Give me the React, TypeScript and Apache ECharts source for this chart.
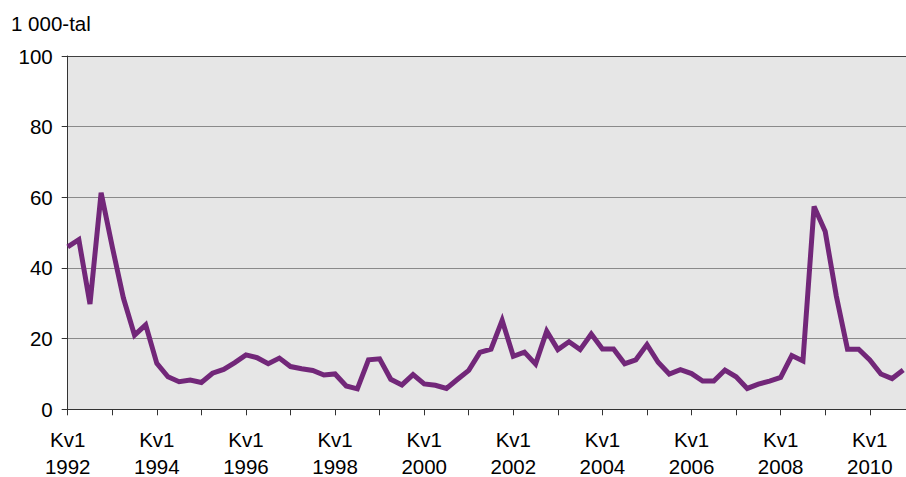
import React, { useEffect, useRef } from "react";
import * as echarts from "echarts";

// Years and quarters shown on the category axis (2011 Kv1 only extends the plot area, no value)
const years = [1992, 1993, 1994, 1995, 1996, 1997, 1998, 1999, 2000, 2001, 2002, 2003, 2004, 2005, 2006, 2007, 2008, 2009, 2010, 2011];
const quarters = ["Kv1", "Kv2", "Kv3", "Kv4"];

// Values in thousands, 1992 Kv1 – 2010 Kv4
const values: (number | null)[] = [
  46, 48, 29.8, 61.3, 46, 31.5, 21, 23.9,
  13, 9.2, 7.8, 8.3, 7.6, 10.2, 11.3, 13.2,
  15.4, 14.6, 12.9, 14.5, 12.1, 11.5, 11.0, 9.7,
  10.0, 6.6, 5.8, 14.0, 14.3, 8.5, 6.9, 9.8,
  7.2, 6.8, 5.9, 8.5, 11.0, 16.1, 17.0, 25.2,
  15.0, 16.2, 12.8, 22.1, 16.9, 19.1, 16.9, 21.3,
  17.1, 17.1, 12.9, 14.0, 18.3, 13.3, 10.0, 11.2,
  10.1, 8.0, 8.0, 11.1, 9.2, 5.9, 7.1, 8.0,
  9.0, 15.2, 13.7, 57.4, 50.3, 32, 17.0, 17.0,
  14.0, 10.0, 8.7, 11.1,
  null,
];

const yTicks = [0, 20, 40, 60, 80, 100];
const unitLabel = "1 000-tal";

const quarterCats: string[] = [];
const yearCats: string[] = [];
years.forEach((y) => {
  quarters.forEach((q) => {
    if (quarterCats.length < values.length) {
      quarterCats.push(q);
      yearCats.push(String(y));
    }
  });
});

const FONT = "'Liberation Sans', Arial, Helvetica, sans-serif";

export default function App() {
  const ref = useRef<HTMLDivElement>(null);
  useEffect(() => {
    if (!ref.current) return;
    const chart = echarts.init(ref.current, null, { renderer: "svg" });
    const step = 11.14;
    const labelStyle = { color: "#000", fontFamily: FONT, fontSize: 20.5, lineHeight: 16 };
    chart.setOption({
      animation: false,
      backgroundColor: "#ffffff",
      title: {
        text: unitLabel,
        left: 11,
        top: 13,
        padding: 0,
        textStyle: { fontFamily: FONT, fontSize: 20.5, fontWeight: "normal", color: "#000", lineHeight: 20 },
      },
      grid: {
        left: 67.7,
        top: 56,
        width: step * (values.length - 1),
        height: 353.3,
        show: true,
        backgroundColor: "#e6e6e6",
        borderWidth: 0,
        containLabel: false,
        outerBoundsMode: "none",
      },
      xAxis: [
        {
          type: "category",
          position: "bottom",
          offset: 0,
          data: quarterCats,
          boundaryGap: false,
          axisLine: { show: true, lineStyle: { color: "#333", width: 1 } },
          axisTick: { show: true, interval: 3, length: 6, lineStyle: { color: "#333", width: 1 } },
          axisLabel: { ...labelStyle, interval: 7, margin: 22 },
          splitLine: { show: false },
        },
        {
          type: "category",
          position: "bottom",
          offset: 0,
          data: yearCats,
          boundaryGap: false,
          axisLine: { show: false },
          axisTick: { show: false },
          axisLabel: { ...labelStyle, interval: 7, margin: 49.5 },
          splitLine: { show: false },
        },
      ],
      yAxis: {
        type: "value",
        min: yTicks[0],
        max: yTicks[yTicks.length - 1],
        interval: 20,
        axisLine: { show: true, lineStyle: { color: "#333", width: 1 } },
        axisTick: { show: true, length: 6, lineStyle: { color: "#333", width: 1 } },
        axisLabel: { color: "#000", fontFamily: FONT, fontSize: 20.5, margin: 15 },
        splitLine: {
          show: true,
          lineStyle: { color: ["#8a8a8a", "#8a8a8a", "#8a8a8a", "#8a8a8a", "#8a8a8a", "#404040"], width: 1.2 },
        },
      },
      series: [
        {
          type: "line",
          xAxisIndex: 0,
          data: values,
          showSymbol: false,
          symbol: "none",
          connectNulls: false,
          lineStyle: { color: "#722779", width: 5, join: "miter" },
          itemStyle: { color: "#722779" },
        },
      ],
    });
    return () => chart.dispose();
  }, []);
  return (
    <div style={{ position: "fixed", left: 0, top: 0, width: 906, height: 477, overflow: "hidden", background: "#fff" }}>
      <div ref={ref} style={{ width: 930, height: 477 }} />
    </div>
  );
}
